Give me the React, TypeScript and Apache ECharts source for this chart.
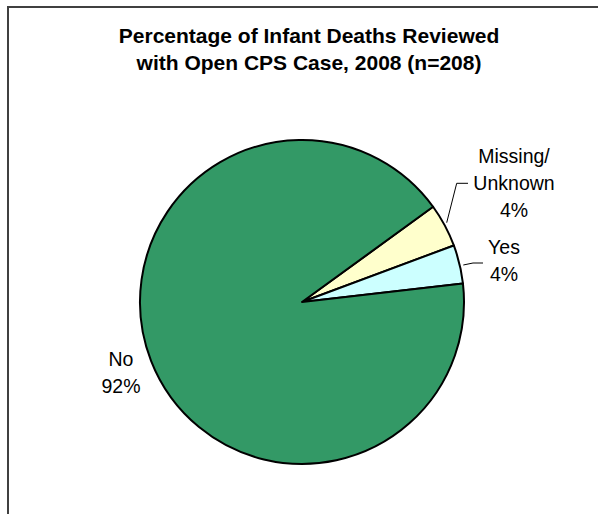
import React, { useEffect, useRef } from "react";
import * as echarts from "echarts";

const categories = ["Missing/\nUnknown", "Yes", "No"];
const counts = [9, 8, 191];
const colors = ["#FFFFCC", "#CCFFFF", "#339966"];
const titleLines = ["Percentage of Infant Deaths Reviewed", "with Open CPS Case, 2008 (n=208)"];

export default function App() {
  const ref = useRef<HTMLDivElement>(null);
  useEffect(() => {
    const chart = echarts.init(ref.current!, null, { renderer: "svg" });
    const labelPos: any[] = [
      { x: 514, y: 183, pts: [[446.7, 222.7], [456.7, 183.3], [468, 183.3]] },
      { x: 504, y: 260, pts: [[463.3, 265], [473, 263], [483, 263]] },
      { x: 121, y: 372, pts: null },
    ];
    chart.setOption({
      animation: false,
      backgroundColor: "#ffffff",
      title: {
        text: titleLines.join("\n"),
        left: 304,
        top: 17,
        textAlign: "center",
        textStyle: {
          fontFamily: "Liberation Sans, Arial, sans-serif",
          fontWeight: "bold",
          fontSize: 21,
          lineHeight: 27,
          color: "#000",
        },
      },
      graphic: [
        {
          type: "rect",
          shape: { x: 8, y: 7, width: 700, height: 600 },
          style: { fill: "none", stroke: "#404040", lineWidth: 2 },
          silent: true,
        },
      ],
      series: [
        {
          type: "pie",
          center: [302, 302],
          radius: 162,
          startAngle: 36,
          clockwise: true,
          avoidLabelOverlap: false,
          itemStyle: { borderColor: "#000", borderWidth: 2 },
          label: {
            show: true,
            position: "outside",
            fontFamily: "Liberation Sans, Arial, sans-serif",
            fontSize: 19.5,
            lineHeight: 27,
            color: "#000",
            align: "center",
            formatter: (p: any) => `${p.name}\n${Math.round(p.percent)}%`,
          },
          labelLine: { show: true, lineStyle: { color: "#000", width: 1 } },
          labelLayout: (params: any) => {
            const lp = labelPos[params.dataIndex];
            const r: any = { x: lp.x, y: lp.y, align: "center", verticalAlign: "middle" };
            if (lp.pts) r.labelLinePoints = lp.pts;
            return r;
          },
          data: categories.map((c, i) => ({
            name: c,
            value: counts[i],
            itemStyle: { color: colors[i] },
            labelLine: { show: i !== 2, lineStyle: { color: "#000", width: 1 } },
          })),
        },
      ],
    });
    return () => chart.dispose();
  }, []);
  return (
    <div
      ref={ref}
      style={{ position: "absolute", left: 0, top: 0, width: 598, height: 514 }}
    />
  );
}
